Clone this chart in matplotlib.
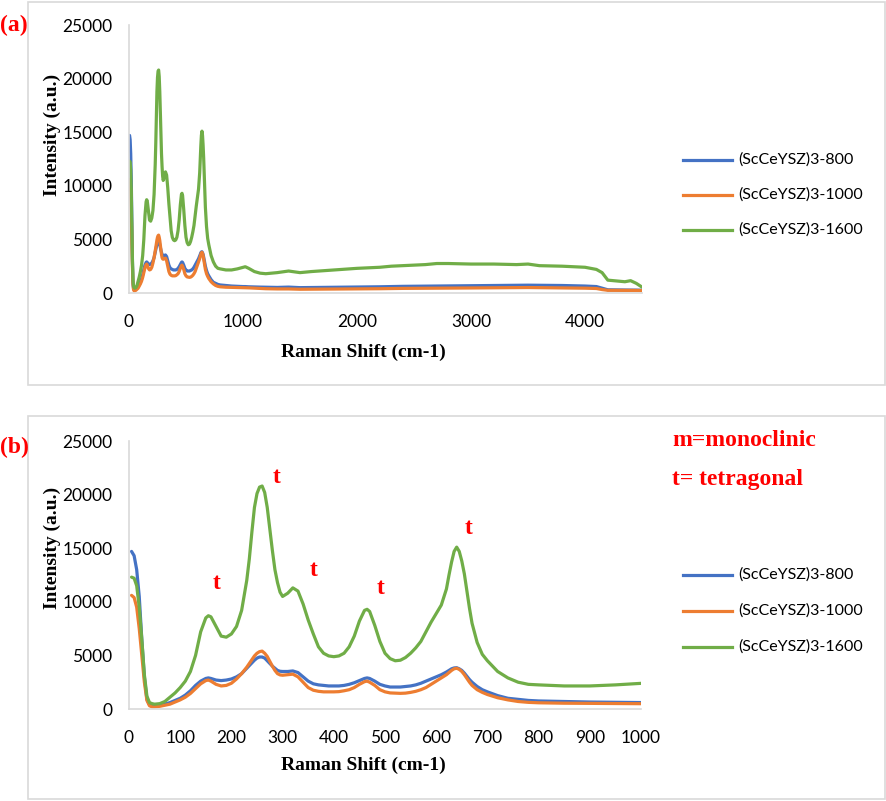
import matplotlib
matplotlib.use("Agg")
import matplotlib.pyplot as plt
from matplotlib.patches import Rectangle

# ---------------- data ----------------
shift = [5, 10, 15, 20, 25, 30, 35, 40, 45, 50, 60, 70, 80, 90, 100, 110, 120, 130, 140, 150,
         155, 160, 170, 180, 190, 200, 210, 220, 230, 235, 240, 245, 250, 255, 260, 265, 270,
         275, 280, 285, 290, 295, 300, 310, 320, 330, 340, 350, 360, 370, 380, 390, 400, 410,
         420, 430, 440, 450, 460, 465, 470, 480, 490, 500, 510, 520, 530, 540, 550, 560, 570,
         580, 590, 600, 610, 620, 625, 630, 635, 640, 645, 650, 655, 660, 665, 670, 680, 690,
         700, 720, 740, 760, 780, 800, 850, 900, 950, 1000,
         1020, 1050, 1100, 1150, 1200, 1300, 1400, 1500, 1600, 1800, 2000, 2200, 2300, 2400,
         2600, 2700, 2800, 3000, 3200, 3400, 3500, 3600, 3800, 4000, 4100, 4150, 4200, 4300,
         4350, 4400, 4450, 4500]

s800 = [14700, 14300, 13000, 10500, 6500, 3000, 900, 400, 300, 300, 350, 450, 600, 800, 1000,
        1300, 1700, 2200, 2600, 2850, 2900, 2850, 2700, 2650, 2700, 2800, 3000, 3300,
        3800, 4050, 4300, 4550, 4750, 4850, 4850, 4750, 4500, 4250, 4000, 3800, 3600, 3520, 3500,
        3500, 3550, 3400, 3000, 2600, 2350, 2250, 2200, 2150, 2150, 2150, 2200, 2300, 2450,
        2650, 2850, 2900, 2850, 2600, 2300, 2150, 2050, 2050, 2050, 2100, 2150, 2250, 2400,
        2600, 2800, 3000, 3200, 3450, 3600, 3750, 3830, 3850, 3750, 3600, 3350, 3050, 2750,
        2500, 2100, 1800, 1600, 1250, 1000, 900, 800, 750, 700, 650, 620, 600,
        600, 580, 560, 550, 540, 520, 550, 500, 510, 530, 550, 580, 600, 620, 640, 650, 660,
        680, 700, 720, 730, 720, 700, 650, 600, 450, 300, 280, 280, 280, 270, 260]

s1000 = [10600, 10400, 9500, 7500, 5000, 2500, 800, 300, 200, 200, 250, 350, 450, 650, 850,
         1100, 1450, 1900, 2350, 2650, 2700, 2600, 2300, 2150, 2200, 2400, 2800, 3300,
         3900, 4250, 4600, 4950, 5200, 5350, 5400, 5200, 4900, 4450, 4000, 3600, 3300, 3180, 3150,
         3200, 3250, 3000, 2500, 2000, 1750, 1650, 1600, 1600, 1600, 1620, 1700, 1800, 2000,
         2300, 2550, 2600, 2500, 2200, 1800, 1600, 1500, 1480, 1460, 1480, 1550, 1650, 1800,
         2000, 2300, 2600, 2900, 3200, 3400, 3600, 3750, 3800, 3700, 3500, 3200, 2850, 2500,
         2200, 1800, 1550, 1350, 1050, 850, 700, 620, 580, 540, 520, 510, 500,
         500, 480, 450, 420, 400, 380, 380, 350, 360, 370, 380, 400, 420, 430, 440, 450, 460,
         470, 490, 500, 510, 500, 480, 450, 420, 320, 250, 250, 250, 250, 240, 230]

s1600 = [12300, 12200, 11500, 9500, 6500, 3200, 1200, 600, 500, 450, 500, 700, 1100, 1500, 2000,
         2600, 3500, 5000, 7200, 8500, 8700, 8600, 7700, 6800, 6700, 7000, 7700, 9200,
         12000, 14000, 16500, 18800, 20100, 20700, 20800, 20200, 18800, 16800, 14800, 13000,
         11800, 10900, 10500,
         10800, 11300, 11000, 9800, 8300, 7000, 5800, 5200, 4950, 4880, 4950, 5200, 5800, 6800,
         8200, 9200, 9300, 9100, 7800, 6300, 5200, 4700, 4500, 4550, 4800, 5200, 5700, 6300,
         7200, 8100, 8900, 9700, 11200, 12500, 13700, 14700, 15100, 14700, 13800, 12600, 11000,
         9400, 8000, 6200, 5100, 4500, 3500, 2900, 2500, 2300, 2250, 2150, 2150, 2250, 2400,
         2450, 2300, 2000, 1850, 1800, 1900, 2050, 1900, 2000, 2150, 2300, 2400, 2500, 2550,
         2650, 2750, 2750, 2700, 2700, 2650, 2700, 2550, 2500, 2400, 2200, 1900, 1200, 1100,
         1050, 1150, 900, 550]

series_names = ["(ScCeYSZ)3-800", "(ScCeYSZ)3-1000", "(ScCeYSZ)3-1600"]
series_colors = ["#4472C4", "#ED7D31", "#70AD47"]

yticks = [0, 5000, 10000, 15000, 20000, 25000]
xticks_a = [0, 1000, 2000, 3000, 4000]
xticks_b = [0, 100, 200, 300, 400, 500, 600, 700, 800, 900, 1000]

# peak labels (b): position (shift, intensity)
t_labels_x = [171, 289, 361, 491, 664]
t_labels_y = [11750, 21550, 12900, 11260, 16860]

# ---------------- figure ----------------
W, H = 886, 801
fig = plt.figure(figsize=(W / 100, H / 100), dpi=100)

def fx(px):
    return px / W

def fy(py):
    return 1 - py / H

# panel frames
for (x0, y0, x1, y1) in [(28, 2, 885, 385), (28, 416, 885, 799)]:
    fig.patches.append(Rectangle((fx(x0), fy(y1)), fx(x1) - fx(x0), fy(y0) - fy(y1),
                                 transform=fig.transFigure, fill=False,
                                 edgecolor="#d9d9d9", lw=1.2))

tick_font = "Lato"
serif = "Liberation Serif"

def make_axes(top_px, right_px, xlim, xticks, legend_rows_y):
    ax = fig.add_axes([fx(129), fy(top_px + 268), fx(right_px) - fx(129), 268 / H])
    for name, vals, c in zip(series_names, [s800, s1000, s1600], series_colors):
        ax.plot(shift, vals, color=c, lw=2.3, label=name, solid_joinstyle="round",
                solid_capstyle="round")
    ax.set_xlim(*xlim)
    ax.set_ylim(0, 25000)
    ax.set_yticks(yticks)
    ax.set_xticks(xticks)
    ax.set_yticklabels([str(v) for v in yticks], fontfamily=tick_font, fontsize=12.5)
    ax.set_xticklabels([str(v) for v in xticks], fontfamily=tick_font, fontsize=12.5)
    ax.tick_params(axis="both", length=0, colors="black")
    ax.tick_params(axis="y", pad=12)
    ax.tick_params(axis="x", pad=15)
    for s in ["top", "right"]:
        ax.spines[s].set_visible(False)
    for s in ["left", "bottom"]:
        ax.spines[s].set_color("#d9d9d9")
        ax.spines[s].set_linewidth(1.2)
    ax.patch.set_alpha(0)
    # legend drawn manually to match positions
    for name, c, ry in zip(series_names, series_colors, legend_rows_y):
        fig.add_artist(plt.Line2D([fx(683), fx(732)], [fy(ry), fy(ry)],
                                  transform=fig.transFigure, color=c, lw=2.3))
        fig.text(fx(738), fy(ry), name, fontfamily=tick_font, fontsize=11.5,
                 va="center", ha="left")
    return ax

ax1 = make_axes(25, 642, (0, 4500), xticks_a, [160, 195, 230])
ax2 = make_axes(441, 641, (0, 1000), xticks_b, [575, 611, 647])

# axis titles
for ylab_c, xlab_c in [(135, 352), (548, 765)]:
    fig.text(fx(52), fy(ylab_c), "Intensity (a.u.)", rotation=90, fontfamily=serif,
             fontweight="bold", fontsize=14, ha="center", va="center")
    fig.text(fx(363), fy(xlab_c), "Raman Shift (cm-1)", fontfamily=serif,
             fontweight="bold", fontsize=14, ha="center", va="center")

# panel letters
fig.text(fx(0), fy(25), "(a)", color="red", fontfamily=serif, fontweight="bold",
         fontsize=17, ha="left", va="center")
fig.text(fx(0), fy(447), "(b)", color="red", fontfamily=serif, fontweight="bold",
         fontsize=17, ha="left", va="center")

# phase annotations
fig.text(fx(672), fy(440), "m=monoclinic", color="red", fontfamily=serif,
         fontweight="bold", fontsize=17, ha="left", va="center")
fig.text(fx(672), fy(480), "t= tetragonal", color="red", fontfamily=serif,
         fontweight="bold", fontsize=17, ha="left", va="center")
for tx, ty in zip(t_labels_x, t_labels_y):
    ax2.text(tx, ty, "t", color="red", fontfamily=serif, fontweight="bold",
             fontsize=17, ha="center", va="center")

fig.savefig("out.png", dpi=100)
